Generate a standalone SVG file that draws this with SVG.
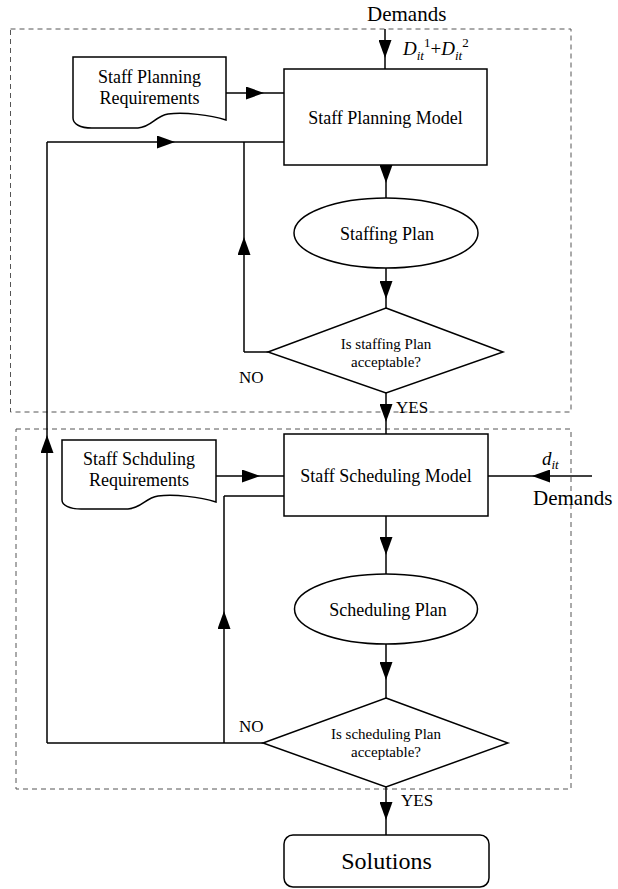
<svg xmlns="http://www.w3.org/2000/svg" width="618" height="889" viewBox="0 0 618 889">
<style>
  .shape { fill: #fff; stroke: #000; stroke-width: 1.5; }
  .dash { fill: none; stroke: #555; stroke-width: 1; stroke-dasharray: 5 4; }
  .line { fill: none; stroke: #000; stroke-width: 1.5; }
  .arr { fill: none; stroke: #000; stroke-width: 1.5; marker-mid: url(#ah); }
  text { font-family: "Liberation Serif", "Times New Roman", serif; fill: #000; }
  .lbl { font-size: 18px; text-anchor: middle; }
  .q { font-size: 15px; text-anchor: middle; }
  .yn { font-size: 17px; }
  .dem { font-size: 21px; }
</style>
<defs>
  <marker id="ah" viewBox="0 0 18 13" refX="18" refY="6.5" markerWidth="18" markerHeight="13" markerUnits="userSpaceOnUse" orient="auto">
    <path d="M0,0 L18,6.5 L0,13 Z" fill="#000"/>
  </marker>
</defs>

<rect class="dash" x="10.5" y="29" width="560.5" height="383"/>
<rect class="dash" x="16" y="429" width="555" height="360"/>

<g id="connectors">
  <path class="arr" d="M385,29 L385,58 L385,69"/>
  <path class="arr" d="M226,93 L264,93 L284,93"/>
  <path class="arr" d="M386,165 L386,183 L386,198"/>
  <path class="arr" d="M386,268 L386,299 L386,308"/>
  <path class="line" d="M268,352 H244"/>
  <path class="arr" d="M244,352 L244,237 L244,142"/>
  <path class="arr" d="M47,142 L175,142 L284,142"/>
  <path class="arr" d="M386,393 L386,422 L386,434"/>
  <path class="arr" d="M216,476 L260,476 L284,476"/>
  <path class="arr" d="M592,476 L532,476 L488,476"/>
  <path class="arr" d="M386,516 L386,555 L386,574"/>
  <path class="arr" d="M386,644 L386,680 L386,698"/>
  <path class="line" d="M263,743 H47"/>
  <path class="arr" d="M47,743 L47,435 L47,142"/>
  <path class="arr" d="M224,743 L224,611 L224,496"/>
  <path class="line" d="M224,496 H284"/>
  <path class="arr" d="M386,787 L386,820 L386,835"/>
</g>

<g id="demands-top">
  <text class="dem" x="367" y="21">Demands</text>
  <text x="403" y="55" font-size="19" font-style="italic">D<tspan font-size="13" dy="5">it</tspan><tspan font-size="13" font-style="normal" dy="-13">1</tspan><tspan font-style="normal" dy="8">+</tspan>D<tspan font-size="13" dy="5">it</tspan><tspan font-size="13" font-style="normal" dy="-13">2</tspan></text>
</g>

<g id="staff-planning-req">
  <path class="shape" d="M73,57 H226 V120 C210,115 185,112 168,114 C155,116 152,127 138,128 L92,128 C80,128 73,124 73,118 Z"/>
  <text class="lbl" x="149.5" y="83">Staff Planning</text>
  <text class="lbl" x="149.5" y="104">Requirements</text>
</g>

<g id="staff-planning-model">
  <rect class="shape" x="284" y="69" width="203" height="96"/>
  <text class="lbl" x="385.5" y="124">Staff Planning Model</text>
</g>

<g id="staffing-plan">
  <ellipse class="shape" cx="386" cy="233" rx="92" ry="35"/>
  <text class="lbl" x="387" y="240">Staffing Plan</text>
</g>

<g id="staffing-decision">
  <path class="shape" d="M386,308 L503,352 L386,393 L268,352 Z"/>
  <text class="q" x="386" y="349">Is staffing Plan</text>
  <text class="q" x="386" y="367">acceptable?</text>
  <text class="yn" x="239" y="383">NO</text>
  <text class="yn" x="396" y="413">YES</text>
</g>

<g id="staff-scheduling-req">
  <path class="shape" d="M62,440 H216 V502 C200,497 175,494 158,496 C145,498 142,508 128,509 L81,509 C69,509 62,505 62,500 Z"/>
  <text class="lbl" x="139" y="465">Staff Schduling</text>
  <text class="lbl" x="139" y="486">Requirements</text>
</g>

<g id="staff-scheduling-model">
  <rect class="shape" x="284" y="434" width="204" height="82"/>
  <text class="lbl" x="386" y="482">Staff Scheduling Model</text>
</g>

<g id="demands-right">
  <text x="542" y="465" font-size="19" font-style="italic">d<tspan font-size="13" dy="4">it</tspan></text>
  <text class="dem" x="533" y="505">Demands</text>
</g>

<g id="scheduling-plan">
  <ellipse class="shape" cx="386" cy="609" rx="91.5" ry="35"/>
  <text class="lbl" x="388" y="616">Scheduling Plan</text>
</g>

<g id="scheduling-decision">
  <path class="shape" d="M386,698 L508,743 L386,787 L263,743 Z"/>
  <text class="q" x="386" y="739">Is scheduling Plan</text>
  <text class="q" x="386" y="757">acceptable?</text>
  <text class="yn" x="239" y="732">NO</text>
  <text class="yn" x="401" y="806">YES</text>
</g>

<g id="solutions">
  <rect class="shape" x="284" y="835" width="205" height="52" rx="9"/>
  <text x="386.5" y="869" font-size="24" text-anchor="middle">Solutions</text>
</g>
</svg>
